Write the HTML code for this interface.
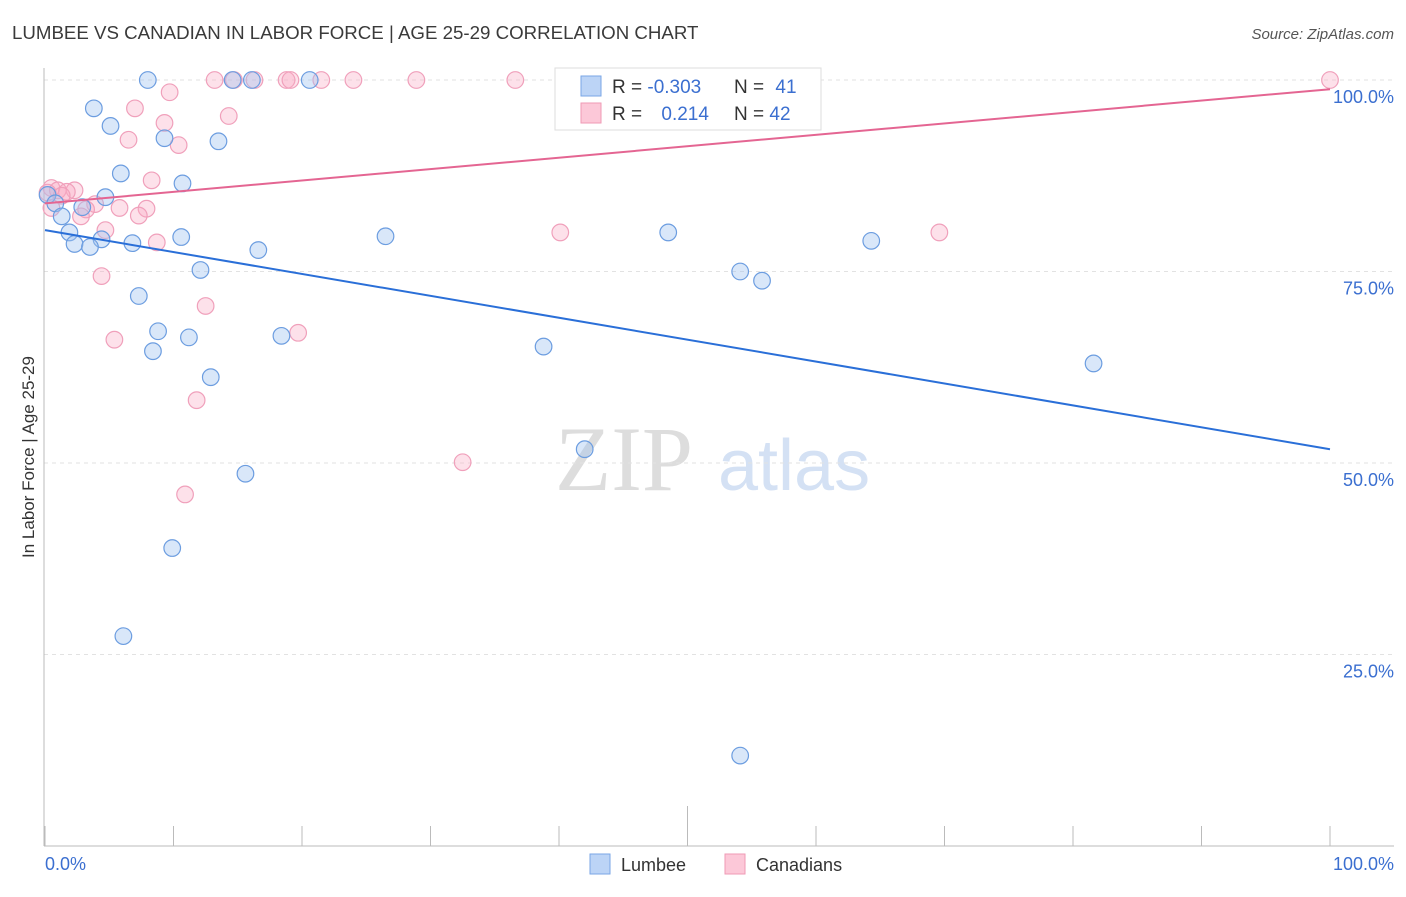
<!DOCTYPE html>
<html><head><meta charset="utf-8"><style>
body{margin:0;background:#fff;font-family:"Liberation Sans",sans-serif}
</style></head><body>
<svg width="1406" height="892" xmlns="http://www.w3.org/2000/svg" font-family="Liberation Sans, sans-serif">
<text x="12" y="39" font-size="18.7" fill="#3a3a3a">LUMBEE VS CANADIAN IN LABOR FORCE | AGE 25-29 CORRELATION CHART</text>
<text x="1394" y="39" font-size="15" fill="#555" text-anchor="end" font-style="italic">Source: ZipAtlas.com</text>
<text x="555" y="490" font-size="92" fill="#ddd" font-family="Liberation Serif, serif">ZIP</text>
<text x="718" y="490" font-size="72" fill="#d4e1f4">atlas</text>
<g id="grid"></g>
<line x1="44" y1="68" x2="44" y2="846" stroke="#bbb"/>
<line x1="44" y1="846" x2="1394" y2="846" stroke="#bbb"/>
<text transform="translate(34,457) rotate(-90)" font-size="17" fill="#333" text-anchor="middle">In Labor Force | Age 25-29</text>
<text x="45" y="870" font-size="18" fill="#3b6fd0">0.0%</text>
<text x="1394" y="870" font-size="18" fill="#3b6fd0" text-anchor="end">100.0%</text>
<g id="pts"></g>
<g id="lines"></g>
<g>
<rect x="555" y="68" width="266" height="62" fill="#fff" stroke="#ddd"/>
<rect x="581" y="76" width="20" height="20" fill="#bcd4f6" stroke="#7aa6e6"/>
<rect x="581" y="103" width="20" height="20" fill="#fcc8d8" stroke="#ef9ab5"/>
<text x="612" y="93" font-size="19" fill="#333">R = <tspan fill="#3b6fd0">-0.303</tspan></text>
<text x="734" y="93" font-size="19" fill="#333">N = <tspan fill="#3b6fd0" dx="6">41</tspan></text>
<text x="612" y="120" font-size="19" fill="#333">R = <tspan fill="#3b6fd0" dx="14">0.214</tspan></text>
<text x="734" y="120" font-size="19" fill="#333">N = <tspan fill="#3b6fd0">42</tspan></text>
</g>
<g><rect x="590" y="854" width="20" height="20" fill="#bcd4f6" stroke="#7aa6e6"/><text x="621" y="871" font-size="18" fill="#333">Lumbee</text></g>
<g><rect x="725" y="854" width="20" height="20" fill="#fcc8d8" stroke="#ef9ab5"/><text x="756" y="871" font-size="18" fill="#333">Canadians</text></g>
</svg>
<script>
const yTicks=[25,50,75,100];
const yTickLabels=["25.0%","50.0%","75.0%","100.0%"];
const lumbeeX=[8,14.6,16.1,20.6,3.8,5.1,9.3,13.5,5.9,10.7,4.7,0.2,0.8,1.3,2.9,1.9,10.6,26.5,48.5,4.4,2.3,3.5,6.8,16.6,64.3,12.1,54.1,55.8,7.3,8.8,11.2,18.4,8.4,38.8,81.6,12.9,42,15.6,9.9,6.1,54.1];
const lumbeeY=[100,100,100,100,96.3,94,92.4,92,87.8,86.5,84.7,85,83.9,82.2,83.4,80.1,79.5,79.6,80.1,79.2,78.6,78.2,78.7,77.8,79,75.2,75,73.8,71.8,67.2,66.4,66.6,64.6,65.2,63,61.2,51.8,48.6,38.9,27.4,11.8];
const canX=[13.2,14.7,16.3,18.8,19.1,21.5,24,28.9,36.6,55.6,100,9.7,7,14.3,9.3,6.5,10.4,8.3,0.5,1,2.3,1.7,1.3,3.9,5.8,7.9,3.2,0.5,2.8,7.3,4.7,8.7,40.1,69.6,4.4,12.5,19.7,5.4,11.8,32.5,10.9,0.2];
const canY=[100,100,100,100,100,100,100,100,100,100,100,98.4,96.3,95.3,94.4,92.2,91.5,86.9,85.9,85.6,85.6,85.4,84.9,83.8,83.3,83.2,83.1,83.3,82.2,82.3,80.4,78.8,80.1,80.1,74.4,70.5,67,66.1,58.2,50.1,45.9,85.3];
const lumbeeTrend=[80.4,51.8];
const canTrend=[83.9,98.8];
const NS="http://www.w3.org/2000/svg";
const sx=v=>45+v*12.85, sy=v=>846-v*7.66;
function mk(t,a,p){const e=document.createElementNS(NS,t);for(const k in a)e.setAttribute(k,a[k]);p.appendChild(e);return e;}
const grid=document.getElementById('grid');
yTicks.forEach((t,i)=>{
 const l=mk('line',{x1:44,x2:1394,y1:sy(t),y2:sy(t),stroke:'#e2e2e2','stroke-dasharray':'4,4'},grid);
 
 
 const tx=mk('text',{x:1394,y:sy(t)+23,'font-size':18,fill:'#3b6fd0','text-anchor':'end'},grid);
 tx.textContent=yTickLabels[i];
 
 
});
for(let i=0;i<=10;i++){
 const top=(i==5)?806:826;
 const l=mk('line',{x1:sx(i*10),x2:sx(i*10),y1:top,y2:846,stroke:'#bbb'},grid);
 
 
}
const pts=document.getElementById('pts');
canX.forEach((x,i)=>{const c=mk('circle',{cx:sx(x),cy:sy(canY[i]),r:8.3,fill:'rgba(248,170,195,0.35)',stroke:'#f0a0bb','stroke-width':1.2},pts);
 
 });
lumbeeX.forEach((x,i)=>{const c=mk('circle',{cx:sx(x),cy:sy(lumbeeY[i]),r:8.3,fill:'rgba(160,195,240,0.4)',stroke:'#6c9de0','stroke-width':1.2},pts);
 
 });
const lines=document.getElementById('lines');
let a=mk('line',{x1:sx(0),x2:sx(100),y1:sy(lumbeeTrend[0]),y2:sy(lumbeeTrend[1]),stroke:'#2a6fd8','stroke-width':2},lines);


let b=mk('line',{x1:sx(0),x2:sx(100),y1:sy(canTrend[0]),y2:sy(canTrend[1]),stroke:'#e46592','stroke-width':2},lines);


</script>
</body></html>
